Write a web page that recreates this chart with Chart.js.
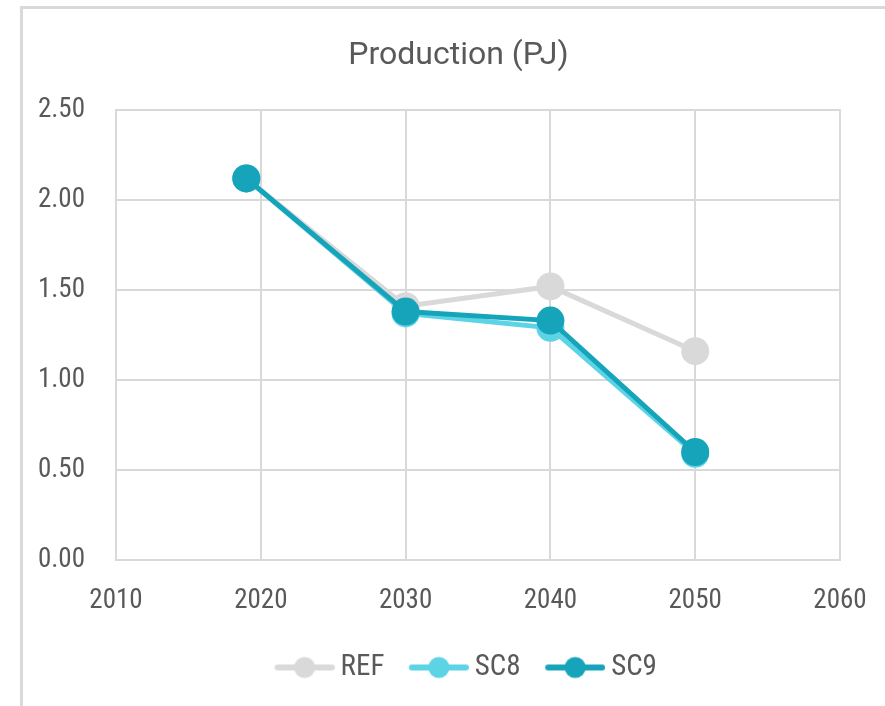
<!DOCTYPE html>
<html>
<head>
<meta charset="utf-8">
<script src="https://cdn.jsdelivr.net/npm/chart.js@4/dist/chart.umd.min.js"></script>
<style>
  html, body { margin: 0; padding: 0; background: #ffffff; overflow: hidden; }
  #frame {
    position: absolute; left: 20px; top: 6px; width: 900px; height: 720px;
    border-top: 3px solid #d9d9d9; border-left: 3px solid #d9d9d9;
    box-sizing: border-box;
  }
  #wrap { position: absolute; left: 0; top: 0; width: 885px; height: 706px; }
</style>
</head>
<body>
<div id="frame"></div>
<div id="wrap"><canvas id="c" width="885" height="706"></canvas></div>
<script>
// Production in petajoules by scenario
const years = [2019, 2030, 2040, 2050];
const refValues = [2.12, 1.41, 1.52, 1.16];
const sc8Values = [2.12, 1.37, 1.29, 0.59];
const sc9Values = [2.12, 1.38, 1.33, 0.60];
const seriesNames = ['REF', 'SC8', 'SC9'];
const seriesColors = ['#d9d9d9', '#5dd3e6', '#16a4ba'];
const xTicks = [2010, 2020, 2030, 2040, 2050, 2060];
const yTicks = [0, 0.5, 1.0, 1.5, 2.0, 2.5];

const NARROW = "'Liberation Sans Narrow', 'Roboto Condensed', Roboto, sans-serif";
const TITLE_FONT = "Roboto, 'Liberation Sans', sans-serif";
const TEXT = '#595959';
const GRID = '#d9d9d9';
const TICK_SIZE = 27;
const Y_LABEL_GAP = 31;   // space between value labels and the plot edge
const Y_AXIS_W = 39;

function pts(vals) { return years.map((y, i) => ({ x: y, y: vals[i] })); }

// widest value label, used to right-align the mirrored y labels outside the plot
const meas = document.createElement('canvas').getContext('2d');
meas.font = TICK_SIZE + 'px ' + NARROW;
const yLabelW = Math.max(...yTicks.map(v => meas.measureText(v.toFixed(2)).width));

// legend marker: short line with a dot in the middle, with blank room on the left
const MARK_BOX = 66;
function marker(color) {
  const c = document.createElement('canvas');
  c.width = MARK_BOX + 17; c.height = 26;
  const g = c.getContext('2d');
  const x0 = c.width - 60, cy = 13;
  g.strokeStyle = color; g.lineWidth = 6; g.lineCap = 'round';
  g.beginPath(); g.moveTo(x0 + 3, cy); g.lineTo(x0 + 57, cy); g.stroke();
  g.fillStyle = color;
  g.beginPath(); g.arc(x0 + 30, cy, 10.5, 0, Math.PI * 2); g.fill();
  return c;
}

const allSeries = [refValues, sc8Values, sc9Values];
const datasets = allSeries.map((vals, i) => ({
  label: seriesNames[i],
  data: pts(vals),
  borderColor: seriesColors[i],
  backgroundColor: seriesColors[i],
  borderWidth: 5,
  pointRadius: 14,
  pointBorderWidth: 0,
  pointHoverRadius: 14,
  order: allSeries.length - i,
  tension: 0
}));

new Chart(document.getElementById('c'), {
  type: 'line',
  data: { datasets },
  options: {
    responsive: false,
    animation: false,
    layout: { padding: { left: 77, right: 45, top: 22, bottom: 14 } },
    plugins: {
      tooltip: { enabled: false },
      title: {
        display: true,
        text: 'Production (PJ)',
        color: TEXT,
        font: { family: TITLE_FONT, size: 32, weight: 'normal' },
        padding: { top: 15, bottom: 34.6 }
      },
      legend: {
        position: 'bottom',
        labels: {
          color: TEXT,
          font: { family: NARROW, size: 29 },
          usePointStyle: true,
          pointStyleWidth: MARK_BOX,
          padding: 10,
          generateLabels: (chart) => chart.data.datasets.map((d, i) => ({
            text: d.label,
            fillStyle: d.borderColor,
            strokeStyle: d.borderColor,
            lineWidth: 0,
            pointStyle: marker(d.borderColor),
            fontColor: TEXT,
            datasetIndex: i,
            hidden: false
          }))
        }
      }
    },
    scales: {
      x: {
        type: 'linear',
        min: xTicks[0],
        max: xTicks[xTicks.length - 1],
        afterBuildTicks: (s) => { s.ticks = xTicks.map(v => ({ value: v })); },
        afterFit: (s) => { s.height = 83; s.paddingLeft = 0; s.paddingRight = 0; },
        ticks: {
          color: TEXT,
          font: { family: NARROW, size: TICK_SIZE },
          padding: 25,
          callback: (v) => String(v)
        },
        grid: { color: GRID, lineWidth: 2, drawTicks: false },
        border: { color: GRID, width: 2 }
      },
      y: {
        min: yTicks[0],
        max: yTicks[yTicks.length - 1],
        afterBuildTicks: (s) => { s.ticks = yTicks.map(v => ({ value: v })); },
        afterFit: (s) => { s.width = Y_AXIS_W; },
        ticks: {
          color: TEXT,
          font: { family: NARROW, size: TICK_SIZE },
          mirror: true,
          crossAlign: 'far',
          padding: -(Y_LABEL_GAP + yLabelW),
          callback: (v) => Number(v).toFixed(2)
        },
        grid: { color: GRID, lineWidth: 2, drawTicks: false },
        border: { color: GRID, width: 2 }
      }
    }
  },
  plugins: [{
    // light outline around the plot area
    id: 'plotEdge',
    afterDraw(chart) {
      const a = chart.chartArea, g = chart.ctx;
      g.save(); g.strokeStyle = GRID; g.lineWidth = 2;
      g.strokeRect(a.left, a.top, a.right - a.left, a.bottom - a.top);
      g.restore();
    }
  }]
});
</script>
</body>
</html>
